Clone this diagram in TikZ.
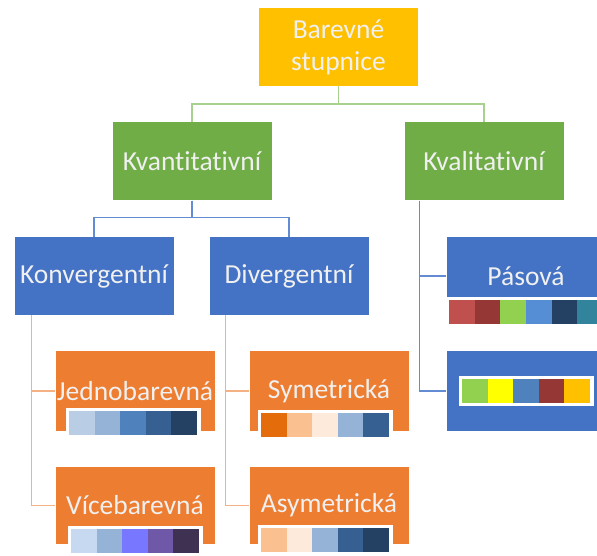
\documentclass[tikz,border=0pt]{standalone}
\usepackage{fontspec}
\setmainfont{Carlito}[Ligatures={NoCommon,NoContextual}]
\usepackage{tikz}
\usetikzlibrary{calc, positioning}
\usepackage{xcolor}
\definecolor{rootC}{RGB}{255, 192, 0}
\definecolor{kindC}{RGB}{112, 173, 71}
\definecolor{typeC}{RGB}{68, 114, 196}
\definecolor{subC}{RGB}{237, 125, 49}
\definecolor{kindL}{RGB}{169, 209, 142}
\definecolor{typeL}{RGB}{100, 140, 210}
\definecolor{subL}{RGB}{244, 177, 131}
% colour scale cells
\definecolor{bA}{RGB}{185, 205, 229}
\definecolor{bB}{RGB}{149, 179, 215}
\definecolor{bC}{RGB}{79, 129, 189}
\definecolor{bD}{RGB}{55, 96, 146}
\definecolor{bE}{RGB}{36, 64, 98}
\definecolor{vA}{RGB}{198, 217, 241}
\definecolor{vC}{RGB}{119, 119, 255}
\definecolor{vD}{RGB}{112, 88, 168}
\definecolor{vE}{RGB}{63, 49, 81}
\definecolor{oA}{RGB}{228, 108, 10}
\definecolor{oB}{RGB}{250, 192, 144}
\definecolor{oC}{RGB}{253, 234, 218}
\definecolor{qA}{RGB}{192, 80, 77}
\definecolor{qB}{RGB}{149, 55, 53}
\definecolor{qC}{RGB}{146, 208, 80}
\definecolor{qD}{RGB}{85, 142, 213}
\definecolor{qE}{RGB}{36, 64, 98}
\definecolor{qF}{RGB}{49, 132, 155}
\definecolor{qY}{RGB}{255, 255, 0}
\definecolor{qO}{RGB}{255, 192, 0}

% colour scale: #1 centre, #2 number of cells, #3 colours
\newcommand{\scalebar}[3]{%
  \begin{scope}[shift={#1}]
    \fill[white] (-#2*12.8-3.5, -15) rectangle (#2*12.8+3.5, 15);
    \foreach \c [count=\i from 0] in {#3}
      \fill[\c] (-#2*12.8+\i*25.6, -12) rectangle ++(25.6, 24);
  \end{scope}}

\begin{document}
\begin{tikzpicture}[x=1pt, y=-1pt,
    box/.style={minimum width=159, minimum height=78, inner sep=0,
      text=white!94!black, align=center, font=\fontsize{27.5}{32}\selectfont},
    line/.style={line width=1.6pt}]
  \clip (0,0) rectangle (597,556);
  \useasboundingbox (0,0) rectangle (597,556);

  % Levels
  \node[box, fill=rootC] (root) at (338.5,47) {Barevné\\stupnice};

  \node[box, fill=kindC] (kvant) at (192,161.5) {Kvantitativní};
  \node[box, fill=kindC] (kval) at (484,161.5) {Kvalitativní};

  \node[box, fill=typeC] (konv) at (94,276) {Konvergentní};
  \node[box, fill=typeC] (div) at (289,276) {Divergentní};
  \node[box, fill=typeC] (pas) at (526,276) {Pásová};
  \node[box, fill=typeC, minimum height=80] (kvalB) at (526,391) {};

  \node[box, fill=subC, minimum height=80] (jedno) at (135,391) {Jednobarevná};
  \node[box, fill=subC, minimum height=77] (vice) at (135,505.5) {Vícebarevná};
  \node[box, fill=subC, minimum height=80] (sym) at (329,391) {Symetrická};
  \node[box, fill=subC, minimum height=77] (asym) at (329,505.5) {Asymetrická};

  % Connectors
  \draw[line, kindL] (root.south) -- ++(0,18) -| (kvant.north);
  \draw[line, kindL] (root.south) -- ++(0,18) -| (kval.north);

  \draw[line, typeL] (kvant.south) -- ++(0,17) -| (konv.north);
  \draw[line, typeL] (kvant.south) -- ++(0,17) -| (div.north);
  \draw[line, typeL] ($(kval.south west)+(15,0)$) |- (pas.west);
  \draw[line, typeL] ($(kval.south west)+(15,0)$) |- (kvalB.west);

  \draw[line, subL] ($(konv.south west)+(17,0)$) |- (jedno.west);
  \draw[line, subL] ($(konv.south west)+(17,0)$) |- (vice.west);
  \draw[line, subL] ($(div.south west)+(16,0)$) |- (sym.west);
  \draw[line, subL] ($(div.south west)+(16,0)$) |- (asym.west);

  % Colour scales
  \scalebar{($(jedno.south)+(-2,-8)$)}{5}{bA,bB,bC,bD,bE}
  \scalebar{($(vice.south)+(0,-3)$)}{5}{vA,bB,vC,vD,vE}
  \scalebar{($(sym.south)+(-4,-6)$)}{5}{oA,oB,oC,bB,bD}
  \scalebar{($(asym.south)+(-4,-4)$)}{5}{oB,oC,bB,bD,bE}
  \scalebar{($(pas.south)+(0,-3.5)$)}{6}{qA,qB,qC,qD,qE,qF}
  \scalebar{(kvalB.center)}{5}{qC,qY,bC,qB,qO}
\end{tikzpicture}
\end{document}
